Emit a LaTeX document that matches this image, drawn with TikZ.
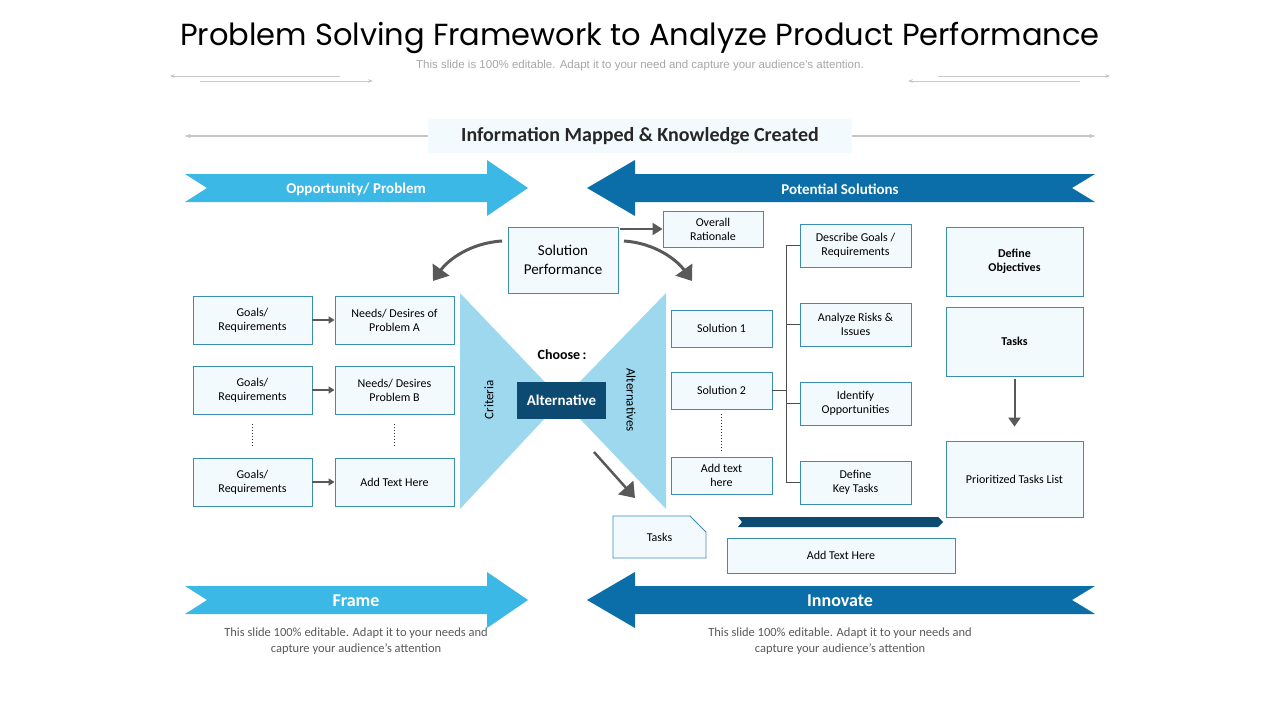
\documentclass[tikz,border=0pt]{standalone}
\usepackage{fontspec}
\setmainfont{Carlito}
\newfontfamily\titlefont{Poppins}
\newfontfamily\subfont{Liberation Sans}
\usetikzlibrary{arrows.meta,calc}
\definecolor{lblue}{HTML}{3CB8E6}
\definecolor{dblue}{HTML}{0B6EA8}
\definecolor{navy}{HTML}{0D4A72}
\definecolor{tri}{HTML}{9DD8EF}
\definecolor{bfill}{HTML}{F3FAFD}
\definecolor{bdraw}{HTML}{3A8FB0}
\definecolor{gline}{HTML}{C8C8C8}
\definecolor{garr}{HTML}{595959}
\begin{document}
\begin{tikzpicture}[x=1pt,y=-1pt,
  box/.style={draw=bdraw,fill=bfill,line width=0.8pt,align=center,font=\fontsize{12}{14}\selectfont,inner sep=0pt},
  sarr/.style={draw=garr,line width=1.5pt,-{Triangle[length=6pt,width=7pt]}},
  barr/.style={draw=garr,line width=3pt,-{Triangle[length=14pt,width=20pt]}},
  deco/.style={draw=gline,line width=1pt},
  dots/.style={draw=black!80,line width=1pt,dotted},
  band/.style={font=\fontsize{15}{17}\selectfont\bfseries,text=white}]
\useasboundingbox (0,0) rectangle (1280,720);
% title
\node (title) at (640,38) {\titlefont\fontsize{30.5}{36}\selectfont Problem Solving Framework to Analyze Product Performance};
\node[text=black!35] (sub) at (640,66) {\subfont\fontsize{11.5}{13}\selectfont This slide is 100\% editable. Adapt it to your need and capture your audience's attention.};
\draw[deco,-{Stealth[length=5pt]}] (340,76) -- (170,76);
\draw[deco,-{Stealth[length=5pt]}] (200,81) -- (373,81);
\draw[deco,-{Stealth[length=5pt]}] (938,76) -- (1110,76);
\draw[deco,-{Stealth[length=5pt]}] (1080,81) -- (908,81);
% header
\node[fill=bfill,minimum width=424pt,minimum height=34pt,font=\fontsize{20}{22}\selectfont\bfseries,text=black!85] (info) at (640,136) {Information Mapped \& Knowledge Created};
\coordinate (il) at (185,136); \coordinate (ir) at (1095,136);
\draw[deco,line width=1.5pt,-{Stealth[length=6pt]}] (info.west) -- (il);
\draw[deco,line width=1.5pt,-{Stealth[length=6pt]}] (info.east) -- (ir);
% band arrows
\foreach \yy in {188,600}{
  \fill[lblue] (185,\yy-14) -- (487,\yy-14) -- (487,\yy-28) -- (528,\yy) -- (487,\yy+28) -- (487,\yy+14) -- (185,\yy+14) -- (207,\yy) -- cycle;
  \fill[dblue] (1095,\yy-14) -- (635,\yy-14) -- (635,\yy-28) -- (587,\yy) -- (635,\yy+28) -- (635,\yy+14) -- (1095,\yy+14) -- (1072,\yy) -- cycle;
}
\node[band,font=\fontsize{15}{16}\selectfont\bfseries] (opp) at (356,189) {Opportunity/ Problem};
\node[band,font=\fontsize{15}{16}\selectfont\bfseries] (pot) at (840,189) {Potential Solutions};
\node[band,font=\fontsize{18}{19}\selectfont\bfseries] (frame) at (356,601) {Frame};
\node[band,font=\fontsize{18}{19}\selectfont\bfseries] (innov) at (840,601) {Innovate};
\node[align=center,text=black!65,font=\fontsize{12.5}{16}\selectfont] (t1) at (356,641) {This slide 100\% editable. Adapt it to your needs and\\capture your audience’s attention};
\node[align=center,text=black!65,font=\fontsize{12.5}{16}\selectfont] (t2) at (840,641) {This slide 100\% editable. Adapt it to your needs and\\capture your audience’s attention};
% bow tie
\fill[tri] (460,293) -- (562,400) -- (460,509) -- cycle;
\fill[tri] (666,293) -- (562,400) -- (666,509) -- cycle;
\node[fill=navy,text=white,minimum width=89pt,minimum height=37pt,inner sep=0pt,font=\fontsize{15}{16}\selectfont\bfseries] (alt) at (561.5,400.5) {Alternative};
\node[font=\fontsize{14}{15}\selectfont\bfseries] (choose) at (562,355) {Choose\,:};
\node[rotate=90,font=\fontsize{13}{14}\selectfont] (crit) at (489,400) {Criteria};
\node[rotate=-90,font=\fontsize{13}{14}\selectfont] (alts) at (631,400) {Alternatives};
% left boxes
\foreach \n/\yy/\tx in {a/320/{Needs/ Desires of\\Problem A}, b/390/{Needs/ Desires\\Problem B}, c/482/{Add Text Here}}{
  \node[box,minimum width=119pt,minimum height=48pt] (g\n) at (252.5,\yy) {Goals/\\Requirements};
  \node[box,minimum width=119pt,minimum height=48pt] (n\n) at (394.5,\yy) {\tx};
  \draw[sarr] (g\n) -- (n\n);
}
\coordinate (d1a) at (252,424); \coordinate (d1b) at (252,446);
\coordinate (d2a) at (394,424); \coordinate (d2b) at (394,446);
\draw[dots] (d1a) -- (d1b); \draw[dots] (d2a) -- (d2b);
% center top
\node[box,minimum width=110pt,minimum height=66pt,font=\fontsize{15}{19}\selectfont] (sp) at (563,260) {Solution\\Performance};
\node[box,minimum width=100pt,minimum height=36pt] (or) at (713,229) {Overall\\Rationale};
\draw[barr,line width=2pt,-{Triangle[length=10pt,width=12pt]}] (620,229) -- (or.west);
\coordinate (cl1) at (502,241); \coordinate (cl2) at (433,281);
\coordinate (cr1) at (624,241); \coordinate (cr2) at (692,281);
\draw[barr] (cl1) .. controls (470,243) and (448,260) .. (cl2);
\draw[barr] (cr1) .. controls (655,243) and (677,260) .. (cr2);
\coordinate (ta1) at (594,452); \coordinate (ta2) at (635,498);
\draw[barr,line width=2.5pt] (ta1) -- (ta2);
% solutions
\node[box,minimum width=101pt,minimum height=37pt] (s1) at (721.5,328.5) {Solution 1};
\node[box,minimum width=101pt,minimum height=37pt] (s2) at (721.5,390.5) {Solution 2};
\node[box,minimum width=101pt,minimum height=37pt] (s3) at (721.5,475.5) {Add text\\here};
\coordinate (d3a) at (721,414); \coordinate (d3b) at (721,452);
\draw[dots] (d3a) -- (d3b);
% tasks folded
\fill[bfill,draw=bdraw,line width=0.8pt] (613,516) -- (690,516) -- (706,532) -- (706,558) -- (613,558) -- cycle;
\node[font=\fontsize{12}{14}\selectfont] (tasks) at (659.5,537) {Tasks};
\fill[navy] (738,517) -- (938,517) -- (943,522) -- (938,527) -- (738,527) -- (742,522) -- cycle;
\node[box,minimum width=228pt,minimum height=35pt] (ath) at (841,555.5) {Add Text Here};
% bracket boxes
\node[box,minimum width=111pt,minimum height=43pt] (r1) at (855.5,245.5) {Describe Goals /\\Requirements};
\node[box,minimum width=111pt,minimum height=43pt] (r2) at (855.5,324.5) {Analyze Risks \&\\Issues};
\node[box,minimum width=111pt,minimum height=43pt] (r3) at (855.5,403.5) {Identify\\Opportunities};
\node[box,minimum width=111pt,minimum height=43pt] (r4) at (855.5,482.5) {Define\\Key Tasks};
\coordinate (bt) at (786,245.5); \coordinate (bb) at (786,482.5);
\draw[line width=0.8pt,black!70] (r1.west) -- (bt) -- (bb) -- (r4.west);
\draw[line width=0.8pt,black!70] (r2.west) -- (786,324.5);
\draw[line width=0.8pt,black!70] (r3.west) -- (786,403.5);
\draw[line width=0.8pt,black!70] (s2.east) -- (786,390.5);
% right column
\node[box,minimum width=137pt,minimum height=69pt,font=\fontsize{12}{14}\selectfont\bfseries] (o1) at (1014.5,261.5) {Define\\Objectives};
\node[box,minimum width=137pt,minimum height=69pt,font=\fontsize{12}{14}\selectfont\bfseries] (o2) at (1014.5,341.5) {Tasks};
\node[box,minimum width=137pt,minimum height=76pt] (o3) at (1014.5,479) {Prioritized Tasks List};
\draw[sarr,line width=2pt,-{Triangle[length=9pt,width=12pt]}] ([yshift=-3pt]o2.south) -- ([yshift=14pt]o3.north);
\end{tikzpicture}
\end{document}
